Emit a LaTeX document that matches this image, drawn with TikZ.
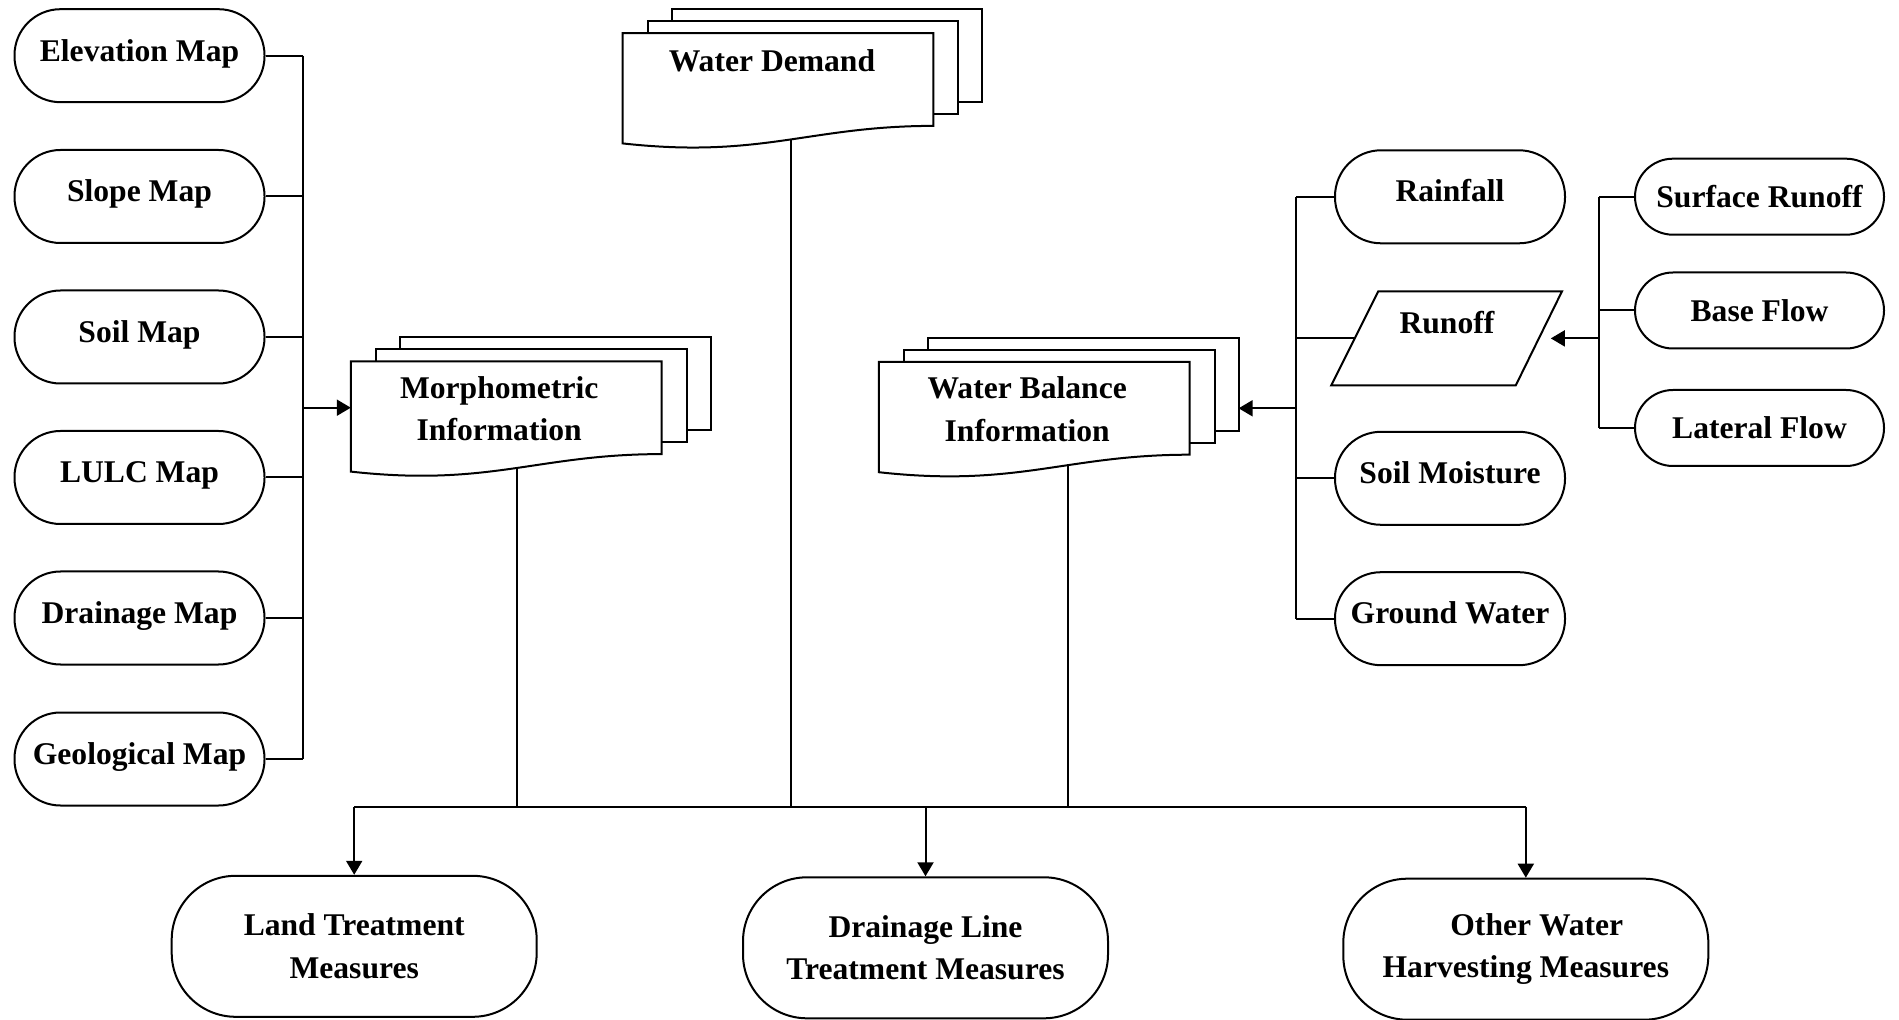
\documentclass[tikz,border=0pt]{standalone}
\usepackage{fontspec}
\setmainfont{Liberation Serif}
\usetikzlibrary{arrows.meta,calc,backgrounds}

\tikzset{
  every node/.style={font=\bfseries\fontsize{15.8}{21.2}\selectfont, align=center, inner sep=0pt},
  mapbox/.style={draw, line width=1pt, rectangle, rounded corners=23pt, minimum width=125pt, minimum height=46.5pt, text depth=5.5pt},
  databox/.style={mapbox, minimum width=115pt, text depth=6pt},
  flowbox/.style={mapbox, rounded corners=19pt, minimum width=124.5pt, minimum height=38pt, text depth=0pt},
  measbox/.style={draw, line width=1pt, rectangle, rounded corners=32pt, minimum width=182.5pt, minimum height=70.5pt},
  docbox/.style={minimum width=155pt, minimum height=46pt},
  docline/.style={draw, fill=white, line width=1pt},
  iobox/.style={minimum width=91.6pt, minimum height=46.7pt},
  link/.style={line width=1pt},
  arr/.style={link, -{Triangle[length=7pt,width=8pt]}}
}

% stack of three documents behind a docbox node
\newcommand{\docstack}[1]{%
  \draw[docline] ($(#1.north west)+(49,-24)$) rectangle ($(#1.south east)+(49,-24)$);
  \draw[docline] ($(#1.north west)+(25,-12)$) rectangle ($(#1.south east)+(25,-12)$);
  \draw[docline] (#1.north west) -- (#1.north east) -- (#1.south east) .. controls ($(#1.south east)+(-124,0)$) and ($(#1.south west)+(139.5,33)$) .. ($(#1.south west)+(0,17.5)$) -- cycle;
}

\begin{document}
\begin{tikzpicture}[x=0.5pt,y=0.5pt,yscale=-1,xscale=1]
\useasboundingbox (0,0) rectangle (1899,1020);

%Maps on the left
\node[mapbox] (elev) at (139.5,55.7) {Elevation Map};
\node[mapbox] (slope) at (139.5,196.5) {Slope Map};
\node[mapbox] (soilmap) at (139.5,337) {Soil Map};
\node[mapbox] (lulc) at (139.5,477.5) {LULC Map};
\node[mapbox] (drain) at (139.5,618) {Drainage Map};
\node[mapbox] (geo) at (139.5,759) {Geological Map};

%Documents
\node[docbox] (morph) at (506.2,407.7) {};
\node[docbox] (wd) at (777.9,79.5) {};
\node[docbox] (wb) at (1034.2,408.3) {};
\begin{pgfonlayer}{background}
\docstack{morph}
\docstack{wd}
\docstack{wb}
\end{pgfonlayer}
% Text Node
\node (morphtxt) at ($(morph)+(-7,1)$) {Morphometric\\Information};
\node (wdtxt) at (772,61) {Water Demand};
\node (wbtxt) at ($(wb)+(-7,1)$) {Water Balance\\Information};

%Water balance inputs
\node[databox] (rain) at (1450,196.8) {Rainfall};
\node[iobox] (runoff) at (1446.8,338.4) {};
\draw[link] ($(runoff.north west)+(23.5,0)$) -- ($(runoff.north east)+(23.2,0)$) -- ($(runoff.south east)+(-23.1,0)$) -- ($(runoff.south west)+(-23.6,0)$) -- cycle;
\node (runofftxt) at (1447,322.5) {Runoff};
\node[databox] (soilm) at (1450,478.3) {Soil Moisture};
\node[databox] (gw) at (1450,618.7) {Ground Water};

%Runoff components
\node[flowbox] (surf) at (1759.5,196.7) {Surface Runoff};
\node[flowbox] (base) at (1759.5,310.5) {Base Flow};
\node[flowbox] (lat) at (1759.5,428) {Lateral Flow};

%Measures
\node[measbox] (land) at (354.2,946.3) {Land Treatment\\Measures};
\node[measbox] (dline) at (925.5,947.8) {Drainage Line\\Treatment Measures};
\node[measbox] (other) at (1525.8,949.2) {\hspace*{11pt}Other Water\\Harvesting Measures};

%Left bus
\coordinate (lbus) at (302.7,55.7);
\draw[link] (elev.east) -- (elev.east -| lbus);
\draw[link] (slope.east) -- (slope.east -| lbus);
\draw[link] (soilmap.east) -- (soilmap.east -| lbus);
\draw[link] (lulc.east) -- (lulc.east -| lbus);
\draw[link] (drain.east) -- (drain.east -| lbus);
\draw[link] (geo.east) -- (geo.east -| lbus);
\draw[link] (elev.east -| lbus) -- (geo.east -| lbus);
\draw[arr] (morph.west -| lbus) -- (morph.west);

%Right bus
\coordinate (rbus) at (1296,196.8);
\coordinate (wbback) at ($(wb.east)+(49,0)$);
\draw[link] (rain.west) -- (rain.west -| rbus);
\draw[link] (runoff.west) -- (runoff.west -| rbus);
\draw[link] (soilm.west) -- (soilm.west -| rbus);
\draw[link] (gw.west) -- (gw.west -| rbus);
\draw[link] (rain.west -| rbus) -- (gw.west -| rbus);
\draw[arr] (wbback -| rbus) -- (wbback);

%Runoff bus
\coordinate (rrbus) at (1599.4,196.7);
\draw[link] (surf.west) -- (surf.west -| rrbus);
\draw[link] (base.west) -- (base.west -| rrbus);
\draw[link] (lat.west) -- (lat.west -| rrbus);
\draw[link] (surf.west -| rrbus) -- (lat.west -| rrbus);
\draw[arr, shorten >=6pt] (runoff.east -| rrbus) -- (runoff.east);

%Outputs
\coordinate (hub) at (926,806.7);
\coordinate (morphout) at ($(morph.north west)+(166,105.8)$);
\coordinate (wdout) at ($(wd.north west)+(168,105.5)$);
\coordinate (wbout) at ($(wb.north west)+(189.3,102.7)$);
\draw[link] (morphout) -- (morphout |- hub);
\draw[link] (wdout) -- (wdout |- hub);
\draw[link] (wbout) -- (wbout |- hub);
\draw[link] (land.north |- hub) -- (other.north |- hub);
\draw[arr] (land.north |- hub) -- (land.north);
\draw[arr] (dline.north |- hub) -- (dline.north);
\draw[arr] (other.north |- hub) -- (other.north);

\end{tikzpicture}
\end{document}
